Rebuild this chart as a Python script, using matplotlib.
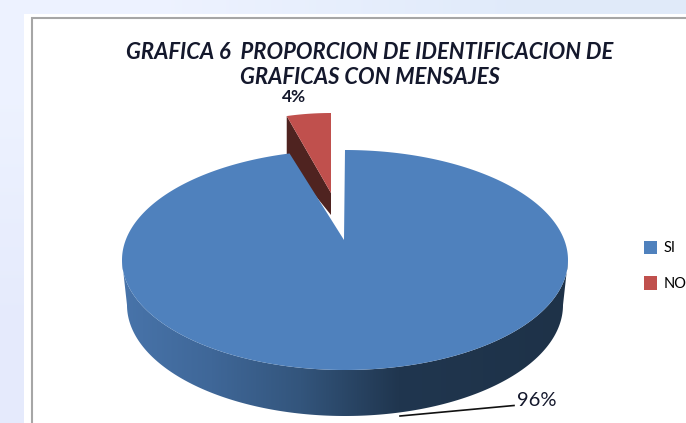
import numpy as np
import matplotlib
matplotlib.use("Agg")
import matplotlib.pyplot as plt
from matplotlib.colors import LinearSegmentedColormap
from matplotlib.patches import Polygon, Rectangle

# data
labels = ["SI", "NO"]
values = [96, 4]
colors = ["#4f81bd", "#c0504d"]
title = "GRAFICA 6  PROPORCION DE IDENTIFICACION DE\nGRAFICAS CON MENSAJES"

plt.rcParams["font.family"] = ["Lato", "DejaVu Sans"]

fig = plt.figure(figsize=(6.86, 4.23), dpi=100)
ax = fig.add_axes([0, 0, 1, 1])
ax.axis("off")

# slide background, then the white panel and the chart frame
bg = np.array([[[0.93, 0.95, 1.0], [0.88, 0.92, 0.98]],
               [[0.90, 0.92, 0.99], [0.88, 0.92, 0.98]]])
ax.imshow(bg, extent=(0, 686, 423, 0), aspect="auto", interpolation="bilinear", zorder=0)
ax.add_patch(Rectangle((24, 14), 670, 420, fc="white", ec="none", zorder=1))
ax.add_patch(Rectangle((31.5, 18.5), 670, 420, fc="white", ec="#a6a6a6", lw=1.5, zorder=2))

# slice angles come from the values, the small slice starts at 12 o'clock
no_sweep = 360 * values[1] / sum(values)
t_no = np.radians(np.linspace(90, 90 + no_sweep, 20))
t_si = np.radians(np.linspace(90 + no_sweep, 450, 400))


def ellipse(t, cx, cy, a, b):
    return np.column_stack([cx + a * np.cos(t), cy - b * np.sin(t)])


# side of the big slice, shaded left to right and clipped to the rim
side_cmap = LinearSegmentedColormap.from_list(
    "side", [(0, "#4874aa"), (0.2, "#3f6798"), (0.4, "#33557c"), (0.62, "#20364f"), (1, "#1e3248")])
t_side = np.radians(np.linspace(180, 360, 300))
top = ellipse(t_side, 345, 260, 223, 110)
low = ellipse(t_side, 345, 305, 218, 111)
rim = Polygon(np.vstack([top, low[::-1]]), fc="none", ec="none", transform=ax.transData)
ax.add_patch(rim)
shade = ax.imshow(np.linspace(0, 1, 256)[None, :], cmap=side_cmap, extent=(122, 568, 423, 250),
                  aspect="auto", zorder=3)
shade.set_clip_path(rim)

# pulled out small slice
no_arc = ellipse(t_no, 331, 210, 178, 97)
no_apex = (331, 193)
ax.add_patch(Polygon([no_arc[-1], no_apex, (331, 215), (no_arc[-1][0], 160)],
                     fc="#4f2320", ec="none", zorder=4))
ax.add_patch(Polygon(np.vstack([[no_apex], no_arc]), fc=colors[1], ec="none", zorder=5))

# top of the big slice
si_arc = ellipse(t_si, 345, 260, 223, 110)
ax.add_patch(Polygon(np.vstack([[(344, 240)], si_arc]), fc=colors[0], ec="none", zorder=6))

# title and labels
ax.text(369.5, 65, title, ha="center", va="center", fontsize=15.8, fontweight="bold",
        style="italic", color="#14182c", linespacing=1.25, zorder=7)
ax.text(294.5, 97.5, f"{values[1]}%", ha="center", va="center", fontsize=12.5, fontweight="bold",
        color="#14182c", zorder=7)
ax.text(536.5, 400, f"{values[0]}%", ha="center", va="center", fontsize=14.5,
        color="#14182c", zorder=7)
ax.plot([400, 514], [416, 405.5], color="#111111", lw=1.2, zorder=7)

# legend
handles = [Rectangle((0, 0), 1, 1, fc=c, ec="none") for c in colors]
ax.legend(handles, labels, loc="upper left", bbox_to_anchor=(638.5 / 686, 1 - 235 / 423),
          frameon=False, fontsize=10.5, handlelength=0.85, handleheight=1.0, handletextpad=0.45,
          labelspacing=1.45, borderpad=0.4, borderaxespad=0)

ax.set_xlim(0, 686)
ax.set_ylim(423, 0)

fig.savefig("out.png", dpi=100)
